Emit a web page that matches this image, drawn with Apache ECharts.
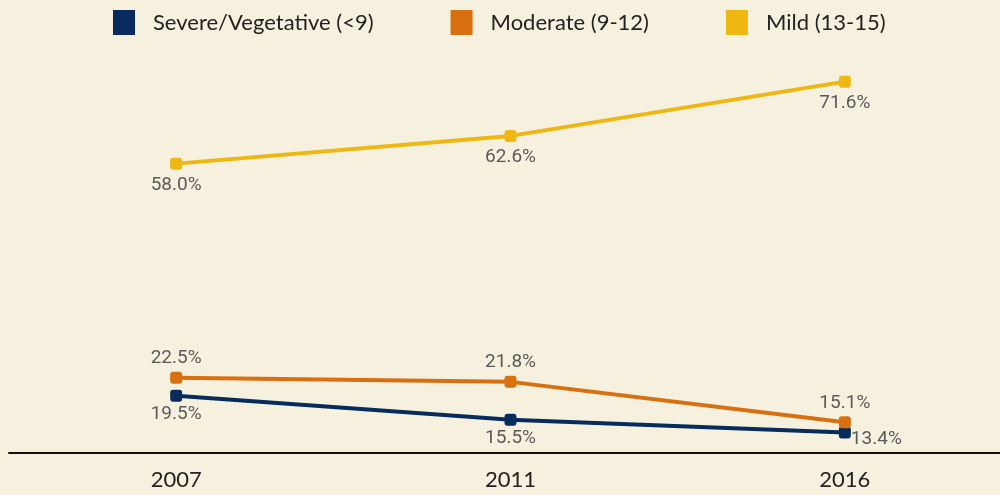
<!DOCTYPE html>
<html>
<head>
<meta charset="utf-8">
<script src="https://cdn.jsdelivr.net/npm/echarts@6/dist/echarts.min.js"></script>
<style>
  html, body { margin: 0; padding: 0; background: #f6f0df; }
  #chart { width: 1000px; height: 495px; }
</style>
</head>
<body>
<div id="chart"></div>
<script>
const years = ['2007', '2011', '2016'];
const severe = [19.5, 15.5, 13.4];
const moderate = [22.5, 21.8, 15.1];
const mild = [58.0, 62.6, 71.6];

const labelFont = {
  color: '#5a5a5a',
  fontFamily: 'Roboto, sans-serif',
  fontSize: 19,
  formatter: p => p.value.toFixed(1) + '%'
};

function line(name, data, color, pos, dist) {
  return {
    name: name,
    type: 'line',
    data: data,
    symbol: 'roundRect',
    symbolSize: 12,
    lineStyle: { width: 4, color: color },
    itemStyle: { color: color },
    label: Object.assign({ show: true, position: pos, distance: dist }, labelFont)
  };
}

const chart = echarts.init(document.getElementById('chart'));
const severeSeries = line('Severe/Vegetative (<9)', severe, '#062b5c', 'bottom', 3);
// last label sits to the right
severeSeries.data = severe.map((v, i) => i === 2
  ? { value: v, label: { position: 'right', distance: 0, offset: [0, 7] } }
  : v);

chart.setOption({
  backgroundColor: '#f6f0df',
  animation: false,
  legend: {
    top: 10,
    left: 113,
    padding: 0,
    itemWidth: 22,
    itemHeight: 25,
    itemGap: 77,
    icon: 'rect',
    textStyle: { color: '#222', fontFamily: 'Lato, sans-serif', fontSize: 22, padding: [0, 0, 0, 13] },
    data: ['Severe/Vegetative (<9)', 'Moderate (9-12)', 'Mild (13-15)']
  },
  grid: { left: 9, width: 1003, top: 31, bottom: 42, outerBoundsMode: 'none', containLabel: false },
  xAxis: {
    type: 'category',
    data: years,
    boundaryGap: true,
    axisLine: { lineStyle: { color: '#111', width: 2 } },
    axisTick: { show: false },
    axisLabel: { color: '#222', fontFamily: 'Lato, sans-serif', fontSize: 22, margin: 16 }
  },
  yAxis: {
    type: 'value',
    min: 10,
    max: 80,
    show: false,
    splitLine: { show: false }
  },
  series: [
    severeSeries,
    line('Moderate (9-12)', moderate, '#d8700f', 'top', 4),
    line('Mild (13-15)', mild, '#efb712', 'bottom', 6)
  ]
});
</script>
</body>
</html>
